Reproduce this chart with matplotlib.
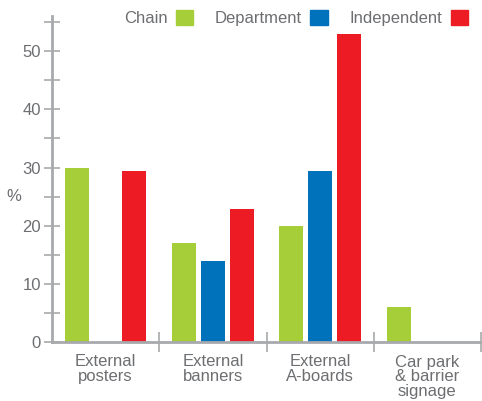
import matplotlib.pyplot as plt
import matplotlib.patches as mpatches
import numpy as np

# data (%)
categories = ['External\nposters', 'External\nbanners', 'External\nA-boards', 'Car park\n& barrier\nsignage']
series_names = ['Chain', 'Department', 'Independent']
chain = [30.0, 17.0, 20.0, 6.0]
department = [0.0, 14.0, 29.4, 0.0]
independent = [29.4, 22.8, 53.0, 0.0]

colors = ['#a6ce39', '#0072bc', '#ed1c24']
text_col = '#6d6e71'
axis_col = '#a7a9ac'

plt.rcParams['font.family'] = ['Liberation Sans', 'DejaVu Sans']
plt.rcParams['font.size'] = 12

fig = plt.figure(figsize=(4.82, 4.01), dpi=100)
ax = fig.add_axes([52 / 482, 59 / 401, 429 / 482, 325.6 / 401])

x = np.arange(len(categories))
offset = 0.268
width = 0.224
for i, (vals, c) in enumerate(zip([chain, department, independent], colors)):
    ax.bar(x + (i - 1) * offset, vals, width=width, color=c, zorder=2)

ax.set_xlim(-0.5, len(categories) - 0.5)
ax.set_ylim(0, 56)

for s in ['top', 'right']:
    ax.spines[s].set_visible(False)
for s in ['left', 'bottom']:
    ax.spines[s].set_color(axis_col)
    ax.spines[s].set_linewidth(2)
    ax.spines[s].set_zorder(3)

# y ticks
ax.set_yticks(np.arange(0, 51, 10))
ax.set_yticks(np.arange(5, 56, 10), minor=True)
ax.tick_params(axis='y', which='both', direction='inout', length=12, width=1.2,
               color=axis_col, labelcolor=text_col, pad=2)

# x ticks: labels at group centres, separators between groups
ax.set_xticks(x)
ax.set_xticklabels(categories, linespacing=0.98, va='top')
ax.set_xticks(np.arange(0.5, len(categories), 1), minor=True)
ax.tick_params(axis='x', which='major', length=0, labelcolor=text_col, pad=9)
ax.tick_params(axis='x', which='minor', direction='inout', length=15, width=1.2, color=axis_col)

ax.set_ylabel('%', rotation=0, color=text_col, va='center', ha='center')
ax.yaxis.set_label_coords(-0.088, 25 / 56)

handles = [mpatches.Patch(color=c, label=n) for c, n in zip(colors, series_names)]
leg = fig.legend(handles=handles, loc='center right', bbox_to_anchor=(468 / 482, 1 - 18 / 401),
                 ncol=3, frameon=False, markerfirst=False, borderpad=0, borderaxespad=0,
                 handlelength=1.05, handleheight=1.05, handletextpad=0.5, columnspacing=1.3)
for t in leg.get_texts():
    t.set_color(text_col)

fig.savefig('out.png', dpi=100)
